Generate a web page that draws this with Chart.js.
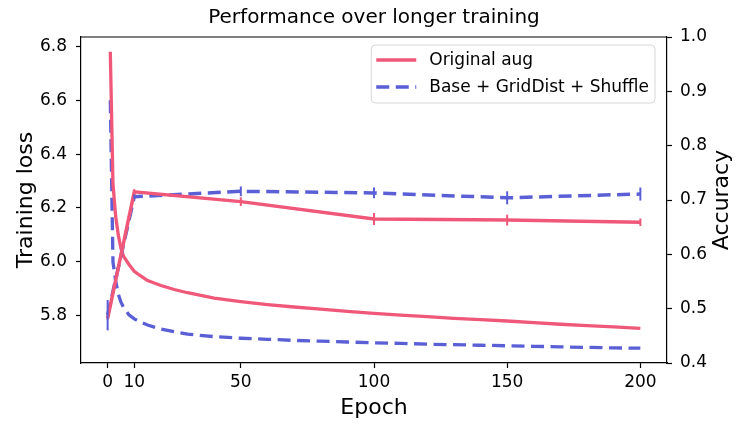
<!DOCTYPE html>
<html>
<head>
<meta charset="utf-8">
<script src="https://cdn.jsdelivr.net/npm/chart.js@4.4.0/dist/chart.umd.min.js"></script>
<style>
html,body{margin:0;padding:0;background:#fff;}
#wrap{width:748px;height:433px;}
</style>
</head>
<body>
<div id="wrap"><canvas id="c" width="748" height="433"></canvas></div>
<script>
// ---- data ----
const seriesLabels = ['Original aug', 'Base + GridDist + Shuffle'];

const accEpochs = [0, 10, 50, 100, 150, 200];
const accOriginal = [0.482, 0.715, 0.697, 0.665, 0.663, 0.659];
const accOriginalErr = [0.003, 0.005, 0.008, 0.011, 0.010, 0.007];
const accGrid = [0.488, 0.706, 0.716, 0.713, 0.704, 0.711];
const accGridErr = [0.028, 0.004, 0.009, 0.010, 0.012, 0.012];

const lossEpochs = [1, 2, 3, 4, 5, 6, 8, 10, 12, 15, 20, 25, 30, 40, 50, 60, 70, 80, 90, 100,
                    110, 120, 130, 140, 150, 160, 170, 180, 190, 200];
const lossOriginal = [6.78, 6.29, 6.17, 6.10, 6.05, 6.02, 5.99, 5.965, 5.95, 5.93, 5.912, 5.897, 5.885, 5.865, 5.852, 5.841, 5.832, 5.824, 5.816, 5.808,
                      5.802, 5.796, 5.790, 5.785, 5.780, 5.774, 5.768, 5.763, 5.758, 5.753];
const lossGrid = [6.60, 6.00, 5.93, 5.88, 5.85, 5.83, 5.803, 5.788, 5.778, 5.765, 5.750, 5.740, 5.731, 5.722, 5.716, 5.712, 5.708, 5.705, 5.702, 5.699,
                  5.697, 5.694, 5.692, 5.690, 5.688, 5.686, 5.684, 5.682, 5.680, 5.679];

const xTicks = [0, 10, 50, 100, 150, 200];
const lossTicks = [5.8, 6.0, 6.2, 6.4, 6.6, 6.8];
const accTicks = [0.4, 0.5, 0.6, 0.7, 0.8, 0.9, 1.0];

// ---- styling ----
const RED = '#f0587a';
const BLUE = '#5a5fd6';
const DASH = [13, 6.5];
const FONT = 'DejaVu Sans';

Chart.defaults.font.family = FONT;
Chart.defaults.color = '#000';

const pts = (xs, ys) => xs.map((x, i) => ({x: x, y: ys[i]}));

const framePlugin = {
  id: 'frameExtras',
  afterDatasetsDraw(chart) {
    const ctx = chart.ctx;
    const xs = chart.scales.x, ya = chart.scales.y1;
    // error bars on accuracy series
    chart.data.datasets.forEach(ds => {
      if (!ds.errors) return;
      ctx.save();
      ctx.strokeStyle = ds.borderColor;
      ctx.lineWidth = 2;
      ds.data.forEach((p, i) => {
        const e = ds.errors[i];
        const px = xs.getPixelForValue(p.x);
        ctx.beginPath();
        ctx.moveTo(px, ya.getPixelForValue(p.y - e));
        ctx.lineTo(px, ya.getPixelForValue(p.y + e));
        ctx.stroke();
      });
      ctx.restore();
    });
  },
  afterDraw(chart) {
    const ctx = chart.ctx;
    const a = chart.chartArea;
    ctx.save();
    // top spine
    ctx.strokeStyle = '#000';
    ctx.lineWidth = 1.2;
    ctx.beginPath();
    ctx.moveTo(a.left, a.top);
    ctx.lineTo(a.right, a.top);
    ctx.stroke();

    // right axis title (reads bottom to top)
    const t = chart.options.scales.y1.title;
    ctx.fillStyle = '#000';
    ctx.font = '22px "' + FONT + '"';
    ctx.textAlign = 'center';
    ctx.textBaseline = 'middle';
    ctx.translate(722, (a.top + a.bottom) / 2);
    ctx.rotate(-Math.PI / 2);
    ctx.fillText(t.text, 0, 0);
    ctx.restore();

    // legend inside upper right
    ctx.save();
    ctx.font = '17px "' + FONT + '"';
    const items = chart.data.datasets.filter(d => d.inLegend);
    const textW = Math.max(...items.map(d => ctx.measureText(d.label).width));
    const right = a.right - 12;
    const top = a.top + 8;
    const left = right - (5 + 40 + 13 + textW + 6);
    const bottom = top + 58;
    ctx.beginPath();
    ctx.roundRect(left, top, right - left, bottom - top, 4);
    ctx.fillStyle = 'rgba(255,255,255,0.8)';
    ctx.fill();
    ctx.strokeStyle = '#d6d6d6';
    ctx.lineWidth = 1;
    ctx.stroke();
    items.forEach((d, i) => {
      const cy = top + 15 + i * 27;
      ctx.beginPath();
      ctx.strokeStyle = d.borderColor;
      ctx.lineWidth = 3.5;
      ctx.setLineDash(d.borderDash || []);
      ctx.moveTo(left + 5, cy);
      ctx.lineTo(left + 45, cy);
      ctx.stroke();
      ctx.setLineDash([]);
      ctx.fillStyle = '#000';
      ctx.textAlign = 'left';
      ctx.textBaseline = 'middle';
      ctx.fillText(d.label, left + 58, cy + 1);
    });
    ctx.restore();
  }
};

const tickFont = {size: 17};
const gridCfg = {display: true, drawOnChartArea: false, drawTicks: true, tickLength: 5, tickWidth: 1.2, tickColor: '#000'};
const borderCfg = {display: true, color: '#000', width: 1.2};

new Chart(document.getElementById('c'), {
  type: 'line',
  data: {
    datasets: [
      {label: seriesLabels[0], data: pts(accEpochs, accOriginal), errors: accOriginalErr, inLegend: true,
       yAxisID: 'y1', borderColor: RED, backgroundColor: RED, borderWidth: 3.5, pointRadius: 0, tension: 0, fill: false},
      {label: seriesLabels[1], data: pts(accEpochs, accGrid), errors: accGridErr, inLegend: true,
       yAxisID: 'y1', borderColor: BLUE, backgroundColor: BLUE, borderWidth: 3.5, borderDash: DASH, pointRadius: 0, tension: 0, fill: false},
      {label: seriesLabels[0] + ' loss', data: pts(lossEpochs, lossOriginal),
       yAxisID: 'y', borderColor: RED, backgroundColor: RED, borderWidth: 3.3, pointRadius: 0, tension: 0, fill: false},
      {label: seriesLabels[1] + ' loss', data: pts(lossEpochs, lossGrid),
       yAxisID: 'y', borderColor: BLUE, backgroundColor: BLUE, borderWidth: 3.3, borderDash: DASH, pointRadius: 0, tension: 0, fill: false}
    ]
  },
  options: {
    responsive: false,
    animation: false,
    devicePixelRatio: 1,
    layout: {padding: 0},
    plugins: {
      legend: {display: false},
      tooltip: {enabled: false},
      title: {display: true, text: 'Performance over longer training', color: '#000',
              font: {size: 20, weight: 'normal'}, padding: {top: 6, bottom: 7}}
    },
    scales: {
      x: {
        type: 'linear', min: -10, max: 210,
        afterBuildTicks: s => { s.ticks = xTicks.map(v => ({value: v})); },
        ticks: {font: tickFont, color: '#000', padding: 4, maxRotation: 0, autoSkip: false, callback: v => String(v)},
        grid: gridCfg, border: borderCfg,
        title: {display: true, text: 'Epoch', color: '#000', font: {size: 22}, padding: {top: 0, bottom: 12}},
        afterFit: s => { s.height = 70; }
      },
      y: {
        type: 'linear', position: 'left', min: 5.624, max: 6.835,
        afterBuildTicks: s => { s.ticks = lossTicks.map(v => ({value: v})); },
        ticks: {font: tickFont, color: '#000', padding: 9, callback: v => Number(v).toFixed(1)},
        grid: gridCfg, border: borderCfg,
        title: {display: true, text: 'Training loss', color: '#000', font: {size: 22}, padding: {top: 13, bottom: 0}},
        afterFit: s => { s.width = 81; }
      },
      y1: {
        type: 'linear', position: 'right', min: 0.4, max: 1.0,
        afterBuildTicks: s => { s.ticks = accTicks.map(v => ({value: v})); },
        ticks: {font: tickFont, color: '#000', padding: 8, callback: v => Number(v).toFixed(1)},
        grid: gridCfg, border: borderCfg,
        title: {display: false, text: 'Accuracy'},
        afterFit: s => { s.width = 81; }
      }
    }
  },
  plugins: [framePlugin]
});
</script>
</body>
</html>
